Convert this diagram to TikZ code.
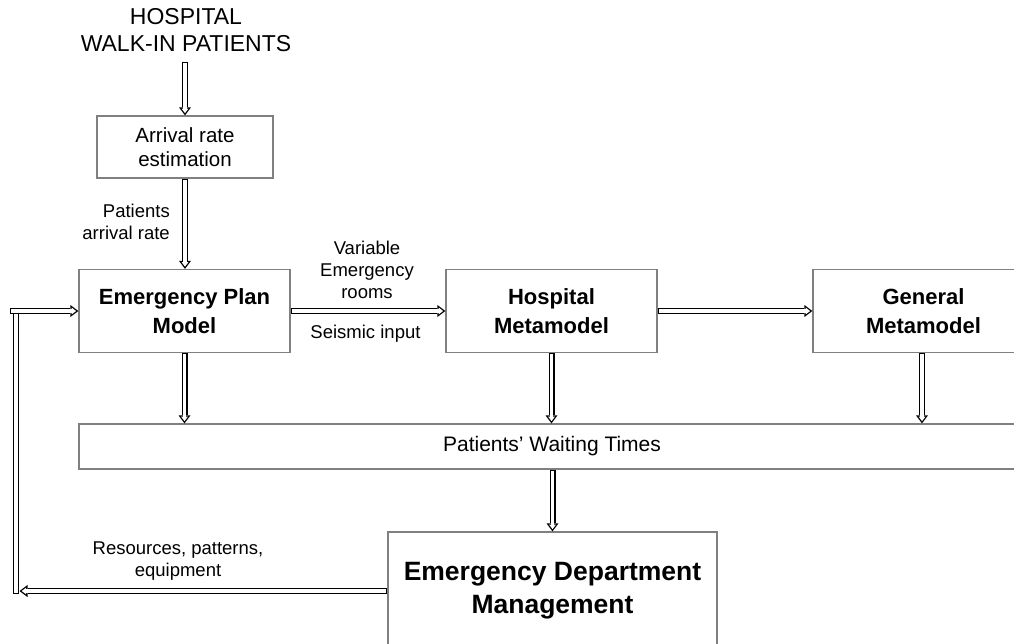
\documentclass[tikz,border=0pt]{standalone}
\usepackage{fontspec}
\setmainfont{Liberation Sans}
\usepackage{tikz}
\usetikzlibrary{arrows.meta,positioning,calc}

\tikzset{
  blockbox/.style={draw=black!50,line width=1.3pt,fill=white,align=center,inner sep=0pt},
  labeltext/.style={inner sep=0pt,font=\fontsize{18.5}{22}\selectfont},
  hollowline/.style={draw=white,line width=3.4pt,shorten <=1.3pt,shorten >=1.3pt,
    preaction={draw=black,line width=6pt,shorten <=0pt,shorten >=0pt}},
  hollowarrow/.style={draw=white,line width=3.4pt,shorten <=1.3pt,shorten >=2.2pt,
    -{Triangle[length=4.5pt,width=6.8pt,line width=0pt]},
    preaction={draw=black,line width=6pt,shorten <=0pt,shorten >=0pt,
      -{Triangle[length=8pt,width=12pt,line width=0pt]}}}
}

\begin{document}
\begin{tikzpicture}[x=1pt,y=-1pt]
  \useasboundingbox (0,0) rectangle (1014,644);
  % source of the patients
  \node[align=center,inner sep=0pt,font=\fontsize{23}{27}\selectfont] (walkin) at (186,30) {HOSPITAL\\WALK-IN PATIENTS};
  \node[blockbox,minimum width=176pt,minimum height=62pt,font=\fontsize{20.5}{24}\selectfont] (arrival) at (185,147) {Arrival rate\\estimation};
  % models
  \node[blockbox,minimum width=211pt,minimum height=83pt,font=\bfseries\fontsize{22}{29}\selectfont] (epm) at (184.5,311) {Emergency Plan\\Model};
  \node[blockbox,minimum width=211pt,minimum height=83pt,font=\bfseries\fontsize{22}{29}\selectfont] (hm) at (551.5,311) {Hospital\\Metamodel};
  \node[blockbox,minimum width=221pt,minimum height=83pt,font=\bfseries\fontsize{22}{29}\selectfont] (gm) at (923.5,311) {General\\Metamodel};
  % outputs
  \node[blockbox,minimum width=946pt,minimum height=45pt,font=\fontsize{21}{25}\selectfont] (waiting) at (552,446.5) {Patients’ Waiting Times};
  \node[blockbox,minimum width=329pt,minimum height=118pt,font=\bfseries\fontsize{26.5}{33}\selectfont] (edm) at (552.5,591) {Emergency Department\\Management};
  % labels
  \node[labeltext,align=right,anchor=east] (ratelbl) at (170,221.4) {Patients\\arrival rate};
  \node[labeltext,align=center] (roomslbl) at (367,269.4) {Variable\\Emergency\\rooms};
  \node[labeltext] (seismiclbl) at (365.5,333.4) {Seismic input};
  \node[labeltext,align=center] (reslbl) at (178,561) {Resources, patterns,\\equipment};

  \draw[hollowarrow] ([yshift=-10pt]walkin.south -| arrival.north) -- (arrival.north);
  \draw[hollowarrow] (arrival.south) -- (arrival.south |- epm.north);
  \draw[hollowarrow] (epm.east) -- (hm.west);
  \draw[hollowarrow] (hm.east) -- (gm.west);
  \draw[hollowarrow] (epm.south) -- (epm.south |- waiting.north);
  \draw[hollowarrow] (hm.south) -- (hm.south |- waiting.north);
  \draw[hollowarrow] ([xshift=-1.5pt]gm.south) -- ([xshift=-1.5pt]gm.south |- waiting.north);
  \draw[hollowarrow] (waiting.south -| edm.north) -- (edm.north);
  % feedback to the plan model
  \coordinate (loopbot) at (16,594);
  \coordinate (looptop) at (16,313);
  \coordinate (loopin) at (10,311);
  \coordinate (loophead) at (19.5,591);
  \draw[hollowline] (loopbot) -- (looptop);
  \draw[hollowarrow] (edm.west) -- (loophead);
  \draw[hollowarrow] (loopin) -- (epm.west);
\end{tikzpicture}
\end{document}
